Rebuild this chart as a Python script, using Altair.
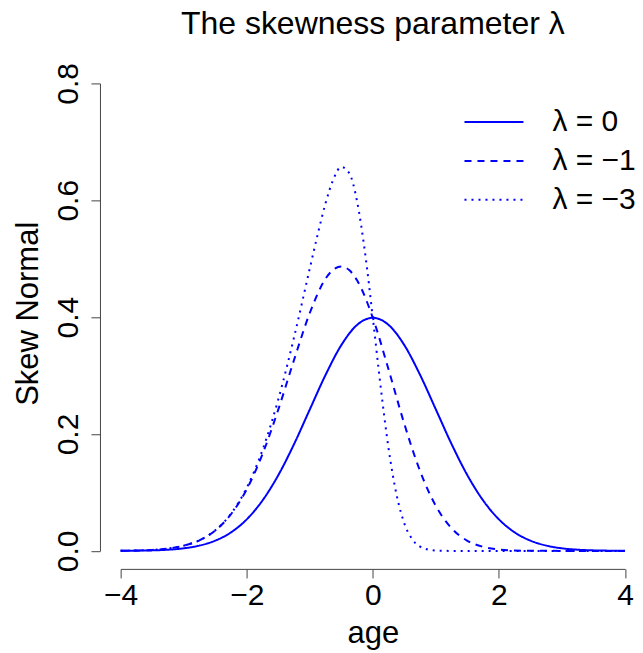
import altair as alt
import pandas as pd

# --- values ---
x_grid = [-4.0, -3.75, -3.5, -3.25, -3.0, -2.75, -2.5, -2.25, -2.0, -1.75, -1.5, -1.25,
          -1.0, -0.75, -0.5, -0.25, 0.0, 0.25, 0.5, 0.75, 1.0, 1.25, 1.5, 1.75,
          2.0, 2.25, 2.5, 2.75, 3.0, 3.25, 3.5, 3.75, 4.0]

y_lam0 = [0.0001, 0.0004, 0.0009, 0.0020, 0.0044, 0.0091, 0.0175, 0.0317, 0.0540, 0.0863,
          0.1295, 0.1826, 0.2420, 0.3011, 0.3521, 0.3867, 0.3989, 0.3867, 0.3521, 0.3011,
          0.2420, 0.1826, 0.1295, 0.0863, 0.0540, 0.0317, 0.0175, 0.0091, 0.0044, 0.0020,
          0.0009, 0.0004, 0.0001]

x_lam1 = [-4.0, -3.75, -3.5, -3.25, -3.0, -2.75, -2.5, -2.25, -2.0, -1.75, -1.5, -1.25,
          -1.0, -0.75, -0.625, -0.5, -0.375, -0.25, 0.0, 0.25, 0.5, 0.75, 1.0, 1.25, 1.5, 1.75,
          2.0, 2.25, 2.5, 2.75, 3.0, 3.25, 3.5, 3.75, 4.0]
y_lam1 = [0.0003, 0.0007, 0.0017, 0.0041, 0.0089, 0.0181, 0.0348, 0.0627, 0.1055, 0.1656,
          0.2417, 0.3267, 0.4071, 0.4658, 0.4815, 0.4869, 0.4805, 0.4630, 0.3989, 0.3103,
          0.2172, 0.1365, 0.0768, 0.0386, 0.0173, 0.0069, 0.0025, 0.0008, 0.0002, 0.0001,
          0.0, 0.0, 0.0, 0.0, 0.0]

x_lam3 = [-4.0, -3.75, -3.5, -3.25, -3.0, -2.75, -2.5, -2.25, -2.0, -1.75, -1.5, -1.25,
          -1.0, -0.875, -0.75, -0.625, -0.5, -0.375, -0.25, -0.125, 0.0, 0.125, 0.25, 0.375,
          0.5, 0.625, 0.75, 0.875, 1.0, 1.25, 1.5, 1.75, 2.0, 2.5, 3.0, 3.5, 4.0]
y_lam3 = [0.0003, 0.0007, 0.0017, 0.0041, 0.0089, 0.0182, 0.0351, 0.0635, 0.1080, 0.1726,
          0.2590, 0.3653, 0.4833, 0.5414, 0.5949, 0.6361, 0.6571, 0.6467, 0.5981, 0.5115,
          0.3989, 0.2801, 0.1752, 0.0969, 0.0470, 0.0199, 0.0073, 0.0024, 0.0007, 0.0,
          0.0, 0.0, 0.0, 0.0, 0.0, 0.0, 0.0]

series_names = ["λ = 0", "λ = −1", "λ = −3"]
x_ticks = [-4, -2, 0, 2, 4]
y_ticks = [0.0, 0.2, 0.4, 0.6, 0.8]

rows = []
for name, xs, ys in zip(series_names, [x_grid, x_lam1, x_lam3], [y_lam0, y_lam1, y_lam3]):
    for xv, yv in zip(xs, ys):
        rows.append({"age": xv, "density": yv, "series": name})
df = pd.DataFrame(rows)

FONT = "Liberation Sans"
BLUE = "#0000FF"
AX = "#444444"

chart = (
    alt.Chart(df)
    .mark_line(color=BLUE, strokeWidth=2, interpolate="monotone", strokeCap="butt")
    .encode(
        x=alt.X(
            "age:Q",
            scale=alt.Scale(domain=[-4, 4], nice=False, zero=False),
            axis=alt.Axis(
                values=x_ticks, title="age", grid=False, offset=18,
                domainColor=AX, tickColor=AX, domainWidth=1, tickWidth=1, tickSize=9,
                labelFont=FONT, labelFontSize=30, labelColor="black",
                labelBaseline="alphabetic", labelPadding=27, labelFlush=False,
                labelExpr="replace(format(datum.value, 'd'), '-', '\u2212')",
                titleFont=FONT, titleFontSize=31, titleFontWeight="normal", titleColor="black",
                titleBaseline="alphabetic", titleY=74, titleAnchor="middle",
            ),
        ),
        y=alt.Y(
            "density:Q",
            scale=alt.Scale(domain=[0, 0.8], nice=False),
            axis=alt.Axis(
                values=y_ticks, title="Skew Normal", grid=False, offset=20.7, format=".1f",
                domainColor=AX, tickColor=AX, domainWidth=1, tickWidth=1, tickSize=9,
                labelFont=FONT, labelFontSize=30, labelColor="black", labelAngle=270,
                labelAlign="center", labelBaseline="alphabetic", labelPadding=13,
                labelFlush=False,
                titleFont=FONT, titleFontSize=31, titleFontWeight="normal", titleColor="black",
                titleAngle=270, titleBaseline="alphabetic", titleAlign="center",
                titleX=-62, titleY=230,
            ),
        ),
        strokeDash=alt.StrokeDash(
            "series:N",
            scale=alt.Scale(domain=series_names, range=[[1, 0], [7, 6], [2, 5]]),
            sort=series_names,
            legend=alt.Legend(
                title=None, orient="none", legendX=343, legendY=19, padding=0,
                symbolType="stroke", symbolSize=3481, symbolStrokeColor=BLUE,
                symbolStrokeWidth=2, clipHeight=39, rowPadding=0, labelOffset=28,
                labelFont=FONT, labelFontSize=30, labelColor="black",
                labelLimit=300,
            ),
        ),
    )
    .properties(
        width=504.6,
        height=467.7,
        title=alt.TitleParams(
            "The skewness parameter λ", font=FONT, fontSize=32, fontWeight="normal",
            color="black", anchor="middle", baseline="alphabetic", offset=-3,
            frame="group",
        ),
        padding={"left": 112.7, "top": 75.3, "right": 10, "bottom": 110},
        autosize=alt.AutoSizeParams(type="none"),
    )
    .configure_view(stroke=None)
)

chart.save("out.html", embed_options={"renderer": "svg", "actions": False})
